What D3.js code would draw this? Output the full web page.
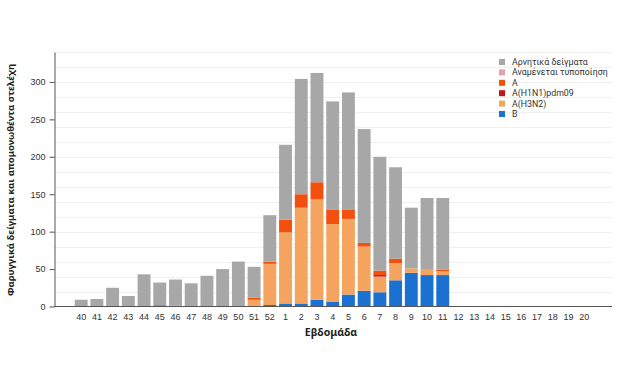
<!DOCTYPE html>
<html>
<head>
<meta charset="utf-8">
<script src="https://cdn.jsdelivr.net/npm/d3@7"></script>
<style>
  body { margin: 0; background: #fff; }
  svg { display: block; font-family: "Noto Sans", "Open Sans", sans-serif; }
</style>
</head>
<body>
<script>
// weeks of the season
var weeks = ["40","41","42","43","44","45","46","47","48","49","50","51","52",
  "1","2","3","4","5","6","7","8","9","10","11","12","13","14","15","16","17","18","19","20"];

// values, one per week
var typeB    = [0,0,0,0,0,0,0,0,0,0,0,0,2, 4,4,9,6,16,21,19,35,45,42,42, 0,0,0,0,0,0,0,0,0];
var h3n2     = [0,0,0,0,0,1,0,0,0,0,0,9,55, 95,128,134,104,101,59,21,23,6,7,5, 0,0,0,0,0,0,0,0,0];
var h1n1     = [0,0,0,0,0,0,0,0,0,0,0,0,0, 0,0,0,0,0,0,2,0,0,0,0, 0,0,0,0,0,0,0,0,0];
var typeA    = [0,0,0,0,0,1,1,0,0,0,0,3,3, 17,18,23,19,12,5,6,6,0,0,2, 0,0,0,0,0,0,0,0,0];
var pending  = [0,0,0,0,0,0,0,0,0,0,0,0,0, 0,0,0,0,0,0,0,0,0,0,0, 0,0,0,0,0,0,0,0,0];
var negative = [9,10,25,14,43,30,35,31,41,50,60,41,62, 100,154,146,145,157,152,152,122,81,96,96, 0,0,0,0,0,0,0,0,0];

var seriesNames = ["B", "A(H3N2)", "A(H1N1)pdm09", "A", "Αναμένεται τυποποίηση", "Αρνητικά δείγματα"];
var seriesColors = ["#1a71d2", "#f4a45e", "#c0151b", "#f2500c", "#e0a3aa", "#a7a7a7"];
var seriesValues = [typeB, h3n2, h1n1, typeA, pending, negative];

var width = 631, height = 367;
var margin = { top: 52, right: 19, bottom: 61, left: 54 };

var svg = d3.select("body").append("svg")
    .attr("width", width)
    .attr("height", height);

// table for the stack
var table = weeks.map(function (w, i) {
    var row = { week: w };
    seriesNames.forEach(function (s, j) { row[s] = seriesValues[j][i]; });
    return row;
});
var stacked = d3.stack().keys(seriesNames)(table);

var x = d3.scaleBand()
    .domain(weeks)
    .range([73.3, 592.1])
    .paddingInner(0.18)
    .paddingOuter(0.09);

var y = d3.scaleLinear()
    .domain([0, 340])
    .range([height - margin.bottom + 0.5, margin.top]);

var color = d3.scaleOrdinal().domain(seriesNames).range(seriesColors);

// gridlines every 20
svg.append("g")
    .selectAll("line")
    .data(d3.range(20, 341, 20))
    .enter().append("line")
    .attr("x1", margin.left)
    .attr("x2", width - margin.right)
    .attr("y1", function (d) { return Math.round(y(d)) + 0.5; })
    .attr("y2", function (d) { return Math.round(y(d)) + 0.5; })
    .attr("stroke", "#efefef")
    .attr("stroke-width", 1);

// bars
svg.append("g")
    .selectAll("g")
    .data(stacked)
    .enter().append("g")
    .attr("fill", function (d) { return color(d.key); })
    .selectAll("rect")
    .data(function (d) { return d; })
    .enter().append("rect")
    .attr("x", function (d) { return x(d.data.week); })
    .attr("width", x.bandwidth())
    .attr("y", function (d) { return y(d[1]); })
    .attr("height", function (d) { return y(d[0]) - y(d[1]); });

// x axis
var xAxis = svg.append("g")
    .attr("transform", "translate(0," + (height - margin.bottom + 0.5) + ")")
    .call(d3.axisBottom(x).tickSize(0).tickPadding(7));
xAxis.select(".domain")
    .attr("d", "M" + margin.left + ",0H" + (width - margin.right))
    .attr("stroke", "#555");
xAxis.selectAll("text").attr("font-size", 9).attr("fill", "#333").attr("font-family", null);

// y axis
var yAxis = svg.append("g")
    .attr("transform", "translate(" + (margin.left + 0.5) + ",0)")
    .call(d3.axisLeft(y).tickValues([0, 50, 100, 150, 200, 250, 300]).tickSize(5).tickSizeOuter(0).tickPadding(4));
yAxis.select(".domain").attr("stroke", "#555");
yAxis.selectAll(".tick line").attr("stroke", "#555");
yAxis.selectAll("text").attr("font-size", 9).attr("fill", "#333").attr("font-family", null);

// axis titles
svg.append("text")
    .attr("x", 331)
    .attr("y", 336)
    .attr("text-anchor", "middle")
    .attr("font-size", 10.5)
    .attr("font-weight", "bold")
    .attr("fill", "#222")
    .text("Εβδομάδα");

svg.append("text")
    .attr("transform", "translate(14," + 180 + ") rotate(-90)")
    .attr("text-anchor", "middle")
    .attr("font-size", 9.5)
    .attr("font-weight", "bold")
    .attr("fill", "#222")
    .text("Φαρυγγικά δείγματα και απομονωθέντα στελέχη");

// legend, top entry is the top of the stack
var legendOrder = seriesNames.slice().reverse();
var legend = svg.append("g")
    .attr("transform", "translate(499,59)")
    .selectAll("g")
    .data(legendOrder)
    .enter().append("g")
    .attr("transform", function (d, i) { return "translate(0," + (i * 10.4) + ")"; });
legend.append("rect")
    .attr("width", 6)
    .attr("height", 6)
    .attr("fill", color);
legend.append("text")
    .attr("x", 13)
    .attr("y", 6)
    .attr("font-family", "Roboto, sans-serif")
    .attr("font-size", 8.8)
    .attr("fill", "#333")
    .text(function (d) { return d; });
</script>
</body>
</html>
